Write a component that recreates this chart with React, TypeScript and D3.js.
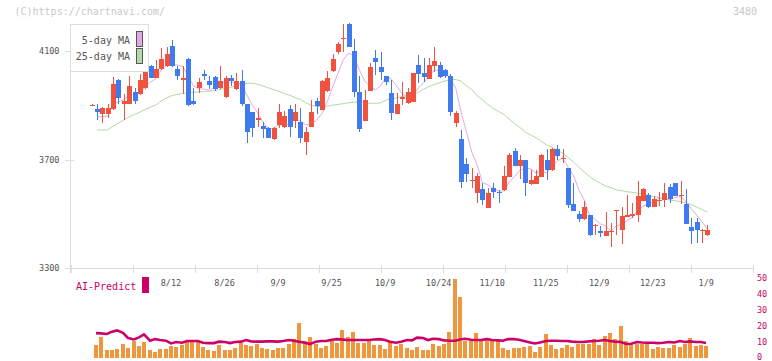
import React from "react";
import * as d3 from "d3";

const W = 772;
const H = 361;

const dateLabels = ["8/12", "8/26", "9/9", "9/25", "10/9", "10/24", "11/10", "11/25", "12/9", "12/23", "1/9"];
const dateLabelIndex = [15, 25, 35, 45, 55, 65, 75, 85, 95, 105, 115];
const priceTicks = [3300, 3700, 4100];
const volumeTicks = [0, 10, 20, 30, 40, 50];

const open = [
  3900, 3885, 3868, 3868, 3886, 3993, 3906, 3906, 3948, 3942,
  3963, 4045, 4002, 4033, 4045, 4119, 4034, 3993, 4071, 3916,
  3963, 4015, 3990, 4004, 3963, 3929, 4002, 3960, 3990, 3904,
  3874, 3847, 3824, 3815, 3775, 3827, 3818, 3885, 3843, 3840,
  3766, 3821, 3916, 3883, 3953, 4027, 4098, 4145, 4199, 4100,
  3948, 3843, 3954, 4076, 4040, 4006, 3944, 3869, 3922, 3907,
  3913, 4049, 4018, 3998, 4046, 4049, 4030, 4009, 3836, 3775,
  3682, 3622, 3575, 3591, 3522, 3596, 3579, 3587, 3637, 3731,
  3677, 3698, 3609, 3609, 3637, 3698, 3661, 3739, 3705, 3667,
  3536, 3499, 3479, 3495, 3457, 3436, 3419, 3436, 3509, 3440,
  3489, 3493, 3495, 3548, 3569, 3526, 3549, 3551, 3600, 3612,
  3567, 3536, 3452, 3468, 3437, 3421,
];
const high = [
  3903, 3904, 3893, 3904, 4003, 3995, 3943, 4007, 3965, 4017,
  4088, 4049, 4067, 4110, 4115, 4141, 4045, 4045, 4073, 3965,
  4002, 4030, 4009, 4006, 4046, 4006, 4012, 4018, 4030, 3906,
  3876, 3889, 3840, 3818, 3818, 3904, 3877, 3901, 3904, 3889,
  3818, 3920, 3926, 3992, 4027, 4088, 4135, 4199, 4205, 4145,
  4006, 3956, 4055, 4104, 4098, 4008, 3993, 3944, 3985, 3963,
  4020, 4086, 4073, 4073, 4114, 4058, 4032, 4014, 3877, 3809,
  3704, 3667, 3649, 3612, 3596, 3614, 3587, 3676, 3725, 3743,
  3716, 3700, 3661, 3661, 3719, 3737, 3741, 3753, 3737, 3669,
  3612, 3511, 3547, 3497, 3461, 3455, 3507, 3465, 3514, 3526,
  3569, 3538, 3621, 3596, 3577, 3565, 3579, 3612, 3610, 3614,
  3622, 3591, 3485, 3483, 3442, 3458,
];
const low = [
  3899, 3846, 3836, 3852, 3884, 3904, 3847, 3904, 3904, 3938,
  3960, 4000, 4000, 4030, 4042, 4042, 3993, 3940, 3899, 3901,
  3944, 3993, 3960, 3953, 3960, 3926, 3971, 3956, 3899, 3760,
  3784, 3818, 3781, 3778, 3772, 3815, 3815, 3783, 3815, 3760,
  3717, 3818, 3868, 3883, 3948, 4024, 4088, 4098, 4114, 3932,
  3803, 3841, 3954, 4012, 3993, 3975, 3845, 3867, 3901, 3905,
  3911, 3982, 3987, 3996, 4024, 4001, 4002, 3862, 3818, 3596,
  3618, 3596, 3538, 3532, 3520, 3557, 3538, 3585, 3635, 3675,
  3627, 3566, 3607, 3608, 3635, 3624, 3659, 3698, 3686, 3522,
  3510, 3471, 3477, 3419, 3421, 3415, 3417, 3378, 3421, 3387,
  3487, 3485, 3471, 3546, 3520, 3524, 3528, 3526, 3538, 3565,
  3536, 3462, 3387, 3394, 3394, 3419,
];
const close = [
  3902, 3875, 3891, 3889, 3979, 3928, 3916, 3971, 3917, 3993,
  4045, 4002, 4034, 4071, 4089, 4045, 4006, 4002, 3901, 3905,
  3986, 4006, 3975, 3960, 3990, 4002, 3991, 3990, 3904, 3800,
  3815, 3852, 3814, 3781, 3815, 3875, 3861, 3818, 3875, 3781,
  3800, 3875, 3897, 3990, 4002, 4071, 4126, 4147, 4116, 3948,
  3814, 3920, 4041, 4061, 4024, 3984, 3873, 3905, 3929, 3949,
  4018, 4017, 4004, 4049, 4063, 4003, 4006, 3874, 3872, 3618,
  3645, 3625, 3639, 3551, 3575, 3579, 3575, 3639, 3716, 3677,
  3698, 3612, 3624, 3639, 3716, 3661, 3739, 3714, 3707, 3532,
  3511, 3480, 3526, 3421, 3459, 3428, 3436, 3438, 3512, 3491,
  3495, 3499, 3565, 3591, 3526, 3553, 3551, 3575, 3554, 3567,
  3570, 3464, 3437, 3440, 3440, 3440,
];

// 25-day moving average (index 1..115)
const ma25 = [
  3809, 3809, 3809, 3823, 3834, 3846, 3857, 3866, 3875, 3884,
  3893, 3901, 3916, 3927, 3936, 3940, 3943, 3946, 3948, 3949,
  3951, 3952, 3954, 3959, 3962, 3966, 3972, 3978, 3981, 3981,
  3977, 3971, 3964, 3958, 3951, 3943, 3937, 3928, 3921, 3909,
  3900, 3896, 3895, 3897, 3900, 3903, 3906, 3909, 3911, 3913,
  3910, 3907, 3907, 3909, 3919, 3924, 3927, 3932, 3935, 3940,
  3947, 3959, 3969, 3977, 3983, 3990, 3994, 3995, 3989, 3972,
  3958, 3935, 3920, 3903, 3888, 3877, 3866, 3849, 3833, 3818,
  3801, 3791, 3780, 3767, 3754, 3745, 3735, 3723, 3707, 3691,
  3672, 3654, 3637, 3624, 3613, 3602, 3596, 3588, 3585, 3581,
  3579, 3576, 3573, 3568, 3563, 3558, 3553, 3551, 3548, 3545,
  3540, 3534, 3525, 3516, 3506, 3499,
].slice(0, 115);
// first values of the 5-day MA (history before the visible window)
const ma5Lead = [3858, 3858, 3860];

// volume (index 1..115)
const volume = [
  8.0, 13.0, 4.8, 4.8, 5.5, 8.6, 6.1, 10.5, 7.3, 9.9,
  4.8, 3.6, 5.5, 5.5, 7.3, 6.7, 8.0, 9.9, 9.9, 9.9,
  6.7, 4.8, 4.2, 8.0, 4.8, 4.8, 6.1, 9.2, 8.0, 7.6,
  8.8, 6.1, 5.5, 4.8, 6.1, 6.1, 8.6, 11.5, 22.0, 10.5,
  13.0, 8.6, 6.1, 7.3, 10.5, 9.2, 17.4, 13.0, 16.1, 9.2,
  9.2, 10.5, 8.0, 8.0, 5.5, 10.5, 7.3, 8.6, 6.1, 4.8,
  6.7, 4.8, 4.8, 8.6, 7.3, 8.6, 16.1, 49.5, 38.2, 10.5,
  10.5, 15.5, 10.5, 10.5, 10.5, 10.5, 6.1, 4.8, 6.1, 6.1,
  6.7, 7.3, 3.6, 6.7, 14.9, 8.0, 5.5, 6.1, 8.0, 6.7,
  8.6, 8.6, 8.6, 11.7, 8.0, 13.6, 15.5, 11.7, 19.9, 10.5,
  8.6, 8.6, 8.6, 8.6, 5.5, 6.7, 6.1, 6.1, 8.0, 6.7,
  8.6, 12.4, 7.3, 8.0, 7.3,
];
const aiPredict = [
  15.5, 15.3, 14.9, 16.4, 17.2, 15.7, 12.4, 11.5, 12.8, 14.7,
  10.7, 11.7, 11.1, 10.7, 9.0, 9.9, 9.4, 10.5, 10.5, 10.5,
  9.4, 9.2, 9.2, 10.1, 9.9, 9.2, 9.9, 10.1, 11.1, 10.3,
  10.1, 10.1, 10.3, 10.3, 10.1, 10.5, 11.1, 10.7, 10.1, 9.4,
  8.6, 10.1, 10.5, 10.5, 11.3, 11.7, 11.5, 11.1, 11.1, 11.1,
  11.1, 11.1, 11.5, 11.7, 11.1, 10.1, 9.4, 10.1, 11.1, 10.9,
  12.6, 12.4, 11.1, 11.9, 11.7, 10.9, 10.7, 10.7, 11.5, 11.9,
  11.3, 11.1, 11.1, 11.7, 11.1, 10.9, 10.7, 11.7, 11.7, 11.3,
  10.5, 9.6, 9.0, 9.6, 10.5, 10.7, 10.7, 10.5, 10.5, 10.1,
  9.9, 9.9, 10.3, 10.5, 10.7, 11.1, 10.5, 10.1, 9.9, 8.6,
  8.8, 9.9, 9.6, 9.4, 9.4, 9.2, 9.4, 9.9, 9.6, 10.5,
  9.9, 10.3, 9.9, 9.9, 9.2,
];

const UP = "#f05240";
const DOWN = "#3f7bef";
const VOL = "#f0963c";
const CRIMSON = "#cc0066";
const PINK = "#e4a8e6";
const GREEN = "#b2d9a6";
const AXIS = "#dddddd";
const LABEL = "#555555";
const MONO = "'DejaVu Sans Mono', monospace";

export default function App() {
  const n = close.length;
  const x = d3.scaleLinear().domain([0, n - 1]).range([91.7, 707.3]);
  const y = d3.scaleLinear().domain([3300, 4100]).range([268, 51]);
  const yv = d3.scaleLinear().domain([0, 50]).range([357.7, 278.3]);
  const grid = d3.scaleLinear().domain([0, 11]).range([70.5, 752.5]);

  const ma5: [number, number][] = [];
  ma5Lead.forEach((v, k) => ma5.push([k + 1, v]));
  for (let i = 4; i < n; i++) {
    ma5.push([i, d3.mean(close.slice(i - 4, i + 1)) as number]);
  }
  const ma25Pts: [number, number][] = ma25.map((v, k) => [k + 1, v]);

  const priceLine = d3
    .line<[number, number]>()
    .x((d) => x(d[0]))
    .y((d) => y(d[1]));
  const aiLine = d3
    .line<number>()
    .x((_, k) => Math.round(x(k + 1)) - 1)
    .y((d) => yv(d));

  return (
    <svg
      width={W}
      height={H}
      style={{ position: "absolute", left: 0, top: 0, background: "#fff" }}
    >
      <rect x={0} y={0} width={W} height={H} fill="#fff" />
      <text x={14.5} y={15} fontFamily={MONO} fontSize={10} fill="#c8c8c8">
        (C)https://chartnavi.com/
      </text>
      <text x={757} y={15} fontFamily={MONO} fontSize={10} fill="#c8c8c8" textAnchor="end">
        3480
      </text>

      {/* axes */}
      <g shapeRendering="crispEdges" stroke={AXIS} strokeWidth={1}>
        <line x1={70.5} x2={70.5} y1={24} y2={273} />
        <line x1={70.5} x2={752.5} y1={268.5} y2={268.5} />
        {d3.range(12).map((k) => (
          <line key={k} x1={Math.round(grid(k)) + 0.5} x2={Math.round(grid(k)) + 0.5} y1={265} y2={273} />
        ))}
        {priceTicks.map((p) => (
          <line key={p} x1={65} x2={74} y1={Math.round(y(p)) + 0.5} y2={Math.round(y(p)) + 0.5} />
        ))}
      </g>
      {priceTicks.map((p) => (
        <text key={p} x={59.5} y={y(p) + 3} fontFamily={MONO} fontSize={8.5} fill={LABEL} textAnchor="end">
          {p}
        </text>
      ))}

      {/* moving averages */}
      <path d={priceLine(ma25Pts) || ""} fill="none" stroke={GREEN} strokeWidth={1} />
      <path d={priceLine(ma5) || ""} fill="none" stroke={PINK} strokeWidth={1} />

      {/* candles */}
      <g shapeRendering="crispEdges">
        {close.map((c, i) => {
          const o = open[i];
          const up = c >= o;
          const col = up ? UP : DOWN;
          const cx = Math.round(x(i));
          const top = Math.round(y(Math.max(o, c)));
          const bot = Math.round(y(Math.min(o, c)));
          return (
            <g key={i}>
              <rect x={cx} y={Math.round(y(high[i]))} width={1} height={Math.max(1, Math.round(y(low[i])) - Math.round(y(high[i])))} fill={col} />
              <rect x={cx - 2} y={top} width={5} height={Math.max(1, bot - top)} fill={col} />
            </g>
          );
        })}
      </g>

      {/* legend */}
      <rect x={70.5} y={24.5} width={78} height={47} fill="#fff" stroke={AXIS} />
      <text x={130} y={43.5} fontFamily={MONO} fontSize={10} fill={LABEL} textAnchor="end">
        5-day MA
      </text>
      <text x={130} y={60} fontFamily={MONO} fontSize={10} fill={LABEL} textAnchor="end">
        25-day MA
      </text>
      <rect x={136.5} y={31.5} width={6} height={15} fill={PINK} stroke="#555" />
      <rect x={136.5} y={48.5} width={6} height={15} fill={GREEN} stroke="#555" />

      {/* date labels */}
      {dateLabels.map((t, k) => (
        <text key={t} x={x(dateLabelIndex[k]) - 1} y={285.5} fontFamily={MONO} fontSize={8.5} fill={LABEL} textAnchor="middle">
          {t}
        </text>
      ))}

      {/* AI-Predict legend */}
      <text x={76} y={290} fontFamily={MONO} fontSize={10} fill={CRIMSON}>
        AI-Predict
      </text>
      <rect x={142} y={277} width={7} height={16} fill={CRIMSON} />

      {/* volume */}
      <g shapeRendering="crispEdges">
        {volume.map((v, k) => {
          const i = k + 1;
          const bx = Math.round(x(i)) - 3;
          const top = Math.round(yv(v));
          return <rect key={k} x={bx} y={top} width={4} height={Math.round(yv(0)) - top} fill={VOL} />;
        })}
      </g>
      <path d={aiLine(aiPredict) || ""} fill="none" stroke={CRIMSON} strokeWidth={2.6} />
      {volumeTicks.map((t) => (
        <text key={t} x={757} y={Math.min(yv(t) + 3, 359.5)} fontFamily={MONO} fontSize={8.5} fill={CRIMSON}>
          {t}
        </text>
      ))}
    </svg>
  );
}
